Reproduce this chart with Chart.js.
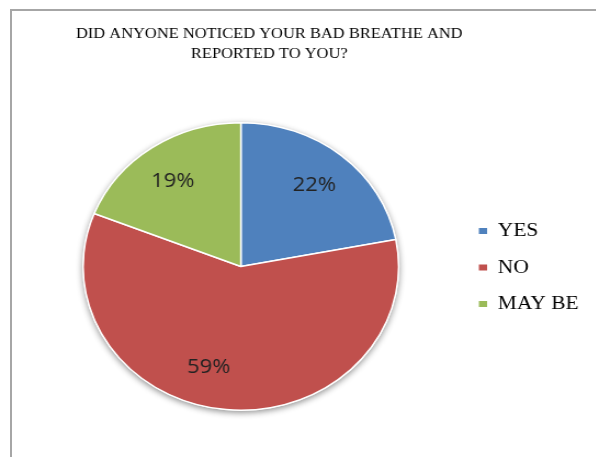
<!DOCTYPE html>
<html>
<head>
<meta charset="utf-8">
<script src="https://cdn.jsdelivr.net/npm/chart.js@4/dist/chart.umd.min.js"></script>
<style>
  html, body { margin: 0; padding: 0; background: #fff; width: 596px; height: 457px; overflow: hidden; }
  #frame { position: absolute; left: 10px; top: 9px; width: 600px; height: 460px;
           border-left: 2px solid #a6a6a6; border-top: 2px solid #a6a6a6; box-sizing: border-box; }
  #wrap { position: absolute; left: 0; top: 0; width: 543px; height: 457px;
          transform: scaleX(1.097); transform-origin: 0 0; }
</style>
</head>
<body>
<div id="frame"></div>
<div id="wrap"><canvas id="c"></canvas></div>
<script>
const titleLines = ['DID ANYONE NOTICED YOUR BAD BREATHE AND', 'REPORTED TO YOU?'];
const categories = ['YES', 'NO', 'MAY BE'];
const percentages = [22, 59, 19];
const sliceColors = ['#4F81BD', '#C0504D', '#9BBB59'];

const shadowPlugin = {
  id: 'pieShadow',
  beforeDatasetsDraw(chart) {
    const arc = chart.getDatasetMeta(0).data[0];
    if (!arc) return;
    const {x, y, outerRadius} = arc.getProps(['x', 'y', 'outerRadius'], true);
    const ctx = chart.ctx;
    ctx.save();
    ctx.shadowColor = 'rgba(0,0,0,0.45)';
    ctx.shadowBlur = 6;
    ctx.shadowOffsetY = 2;
    ctx.fillStyle = '#ffffff';
    ctx.beginPath();
    ctx.arc(x, y, outerRadius + 0.5, 0, Math.PI * 2);
    ctx.fill();
    ctx.restore();
  }
};

// best-fit style label placement tweak (angle offset in degrees per slice)
const labelAngleNudge = [0, 10.8, -2];

const labelPlugin = {
  id: 'sliceLabels',
  afterDatasetsDraw(chart) {
    const ctx = chart.ctx;
    const meta = chart.getDatasetMeta(0);
    ctx.save();
    ctx.font = '20px "Open Sans"';
    ctx.fillStyle = '#222222';
    ctx.textAlign = 'center';
    ctx.textBaseline = 'middle';
    meta.data.forEach((arc, i) => {
      const {x, y, startAngle, endAngle, outerRadius} =
        arc.getProps(['x', 'y', 'startAngle', 'endAngle', 'outerRadius'], true);
      const mid = (startAngle + endAngle) / 2 + labelAngleNudge[i] * Math.PI / 180;
      const d = outerRadius * 0.73;
      ctx.fillText(percentages[i] + '%', x + Math.cos(mid) * d, y + Math.sin(mid) * d);
    });
    ctx.restore();
  }
};

const boxShiftPlugin = {
  id: 'boxShift',
  afterLayout(chart) {
    const t = chart.titleBlock;
    if (t) { t.left -= 33; t.right -= 33; }
    const l = chart.legend;
    if (l) { l.top += 62; l.bottom += 62; l.left -= 2; l.right -= 2; }
  }
};

new Chart(document.getElementById('c'), {
  type: 'pie',
  data: {
    labels: categories,
    datasets: [{
      data: percentages,
      backgroundColor: sliceColors,
      borderColor: '#ffffff',
      borderWidth: 1.5
    }]
  },
  options: {
    responsive: true,
    maintainAspectRatio: false,
    animation: false,
    layout: { padding: { left: 17.6, right: 3.7, top: 0, bottom: 46 } },
    plugins: {
      tooltip: { enabled: false },
      title: {
        display: true,
        text: titleLines,
        color: '#000000',
        font: { family: '"Liberation Serif", "Times New Roman", serif', size: 15, weight: 'normal', lineHeight: 1.33 },
        padding: { top: 24, bottom: 58 }
      },
      legend: {
        position: 'right',
        align: 'center',
        labels: {
          color: '#000000',
          font: { family: '"Liberation Serif", "Times New Roman", serif', size: 19.5 },
          boxWidth: 7.5,
          boxHeight: 6,
          padding: 17,
          generateLabels(chart) {
            return Chart.overrides.pie.plugins.legend.labels.generateLabels(chart)
              .map(l => Object.assign(l, { lineWidth: 0, strokeStyle: 'rgba(0,0,0,0)' }));
          }
        }
      }
    }
  },
  plugins: [shadowPlugin, labelPlugin, boxShiftPlugin]
});
</script>
</body>
</html>
